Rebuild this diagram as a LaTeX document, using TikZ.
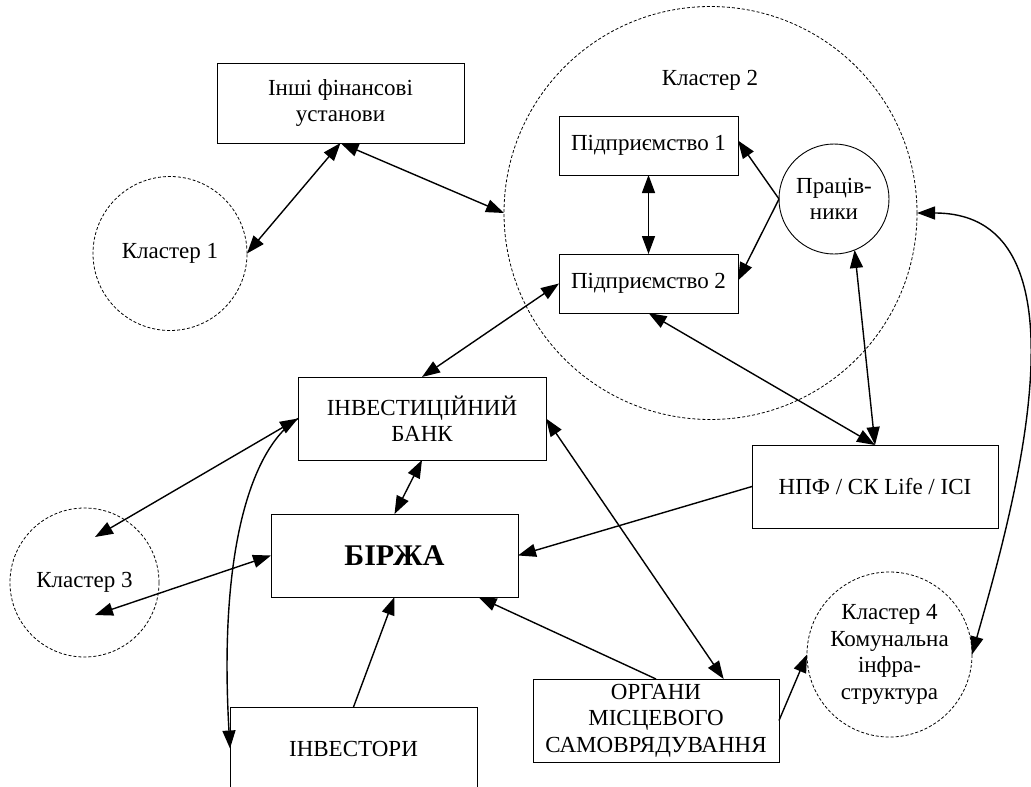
\documentclass[tikz,border=0pt]{standalone}
\usepackage{fontspec}
\setmainfont{Liberation Serif}
\usetikzlibrary{arrows.meta,calc}
\begin{document}
\begin{tikzpicture}[x=1pt,y=-1pt,
  >={Triangle[length=18pt,width=13pt]},
  every node/.style={font=\fontsize{23}{26.5}\selectfont, inner sep=0pt, outer sep=0pt, align=center},
  box/.style={draw, rectangle, line width=0.9pt},
  cluster/.style={draw, circle, line width=0.8pt, dash pattern=on 3pt off 2pt},
  solidcircle/.style={draw, circle, line width=0.9pt},
  conn/.style={line width=1.4pt, ->},
  biconn/.style={line width=1.4pt, <->}]
\useasboundingbox (0,0) rectangle (1031,787);
\clip (0,0) rectangle (1031,787);

% clusters
\node[cluster, minimum size=154pt] (k1) at (170,253.5) {Кластер 1};
\node[cluster, minimum size=413pt] (k2) at (710.5,213) {};
\node (k2lbl) at (710,80) {Кластер 2};
\node[cluster, minimum size=149pt] (k3) at (84.5,582.5) {Кластер 3};
\node[cluster, minimum size=165pt] (k4) at (889.5,654.5) {Кластер 4\\Комунальна\\інфра-\\структура};
\node[solidcircle, minimum size=110pt] (prac) at (834,199) {Праців-\\ники};

% free ends inside cluster 3
\coordinate (k3a) at (95,537);
\coordinate (k3b) at (95,615);

% boxes
\node[box, minimum width=247pt, minimum height=80pt] (inshi) at (340.5,103) {Інші фінансові\\установи};
\node[box, minimum width=179pt, minimum height=59pt] (p1) at (648.5,145.5) {Підприємство 1};
\node[box, minimum width=179pt, minimum height=59pt] (p2) at (648.5,283.5) {Підприємство 2};
\node[box, minimum width=248pt, minimum height=83pt] (bank) at (422,418.5) {ІНВЕСТИЦІЙНИЙ\\БАНК};
\node[box, minimum width=247pt, minimum height=83pt, font=\fontsize{30}{36}\selectfont\bfseries] (birzha) at (394.5,555.5) {БІРЖА};
\node[box, minimum width=246pt, minimum height=83pt] (npf) at (875,486.5) {НПФ / СК Life / ІСІ};
\node[box, minimum width=246pt, minimum height=83pt] (org) at (656,720.5) {ОРГАНИ\\МІСЦЕВОГО\\САМОВРЯДУВАННЯ};
\node[box, minimum width=247pt, minimum height=83pt] (inv) at (353.5,748.5) {ІНВЕСТОРИ};

% connectors
\draw[biconn] (inshi.south) -- (k1.east);
\draw[biconn] (inshi.south) -- (k2.west);
\draw[biconn] (p1.south) -- (p2.north);
\draw[conn] (prac.west) -- ($(p1.east)+(0,-5)$);
\draw[conn] (prac.west) -- ($(p2.east)+(0,-3)$);
\draw[biconn] (p2.west) -- (bank.north);
\draw[biconn] (p2.south) -- (npf.north);
\draw[biconn] (prac.-68) -- (npf.north);
\draw[biconn] (bank.south) -- (birzha.north);
\draw[biconn] (bank.west) -- (k3a);
\draw[biconn] (birzha.west) -- (k3b);
\draw[conn] (npf.west) -- (birzha.east);
\draw[biconn] (bank.east) -- ($(org.north)!0.55!(org.north east)$);
\draw[conn] (org.north) -- ($(birzha.south)!0.68!(birzha.south east)$);
\draw[conn] (org.east) -- (k4.west);
\draw[conn] (inv.north) -- (birzha.south);
\draw[conn] (bank.west) .. controls (255,445) and (218,540) .. (inv.west);
\draw[biconn] (k2.east) .. controls (1100,213) and (1010,520) .. (k4.east);
\end{tikzpicture}
\end{document}
